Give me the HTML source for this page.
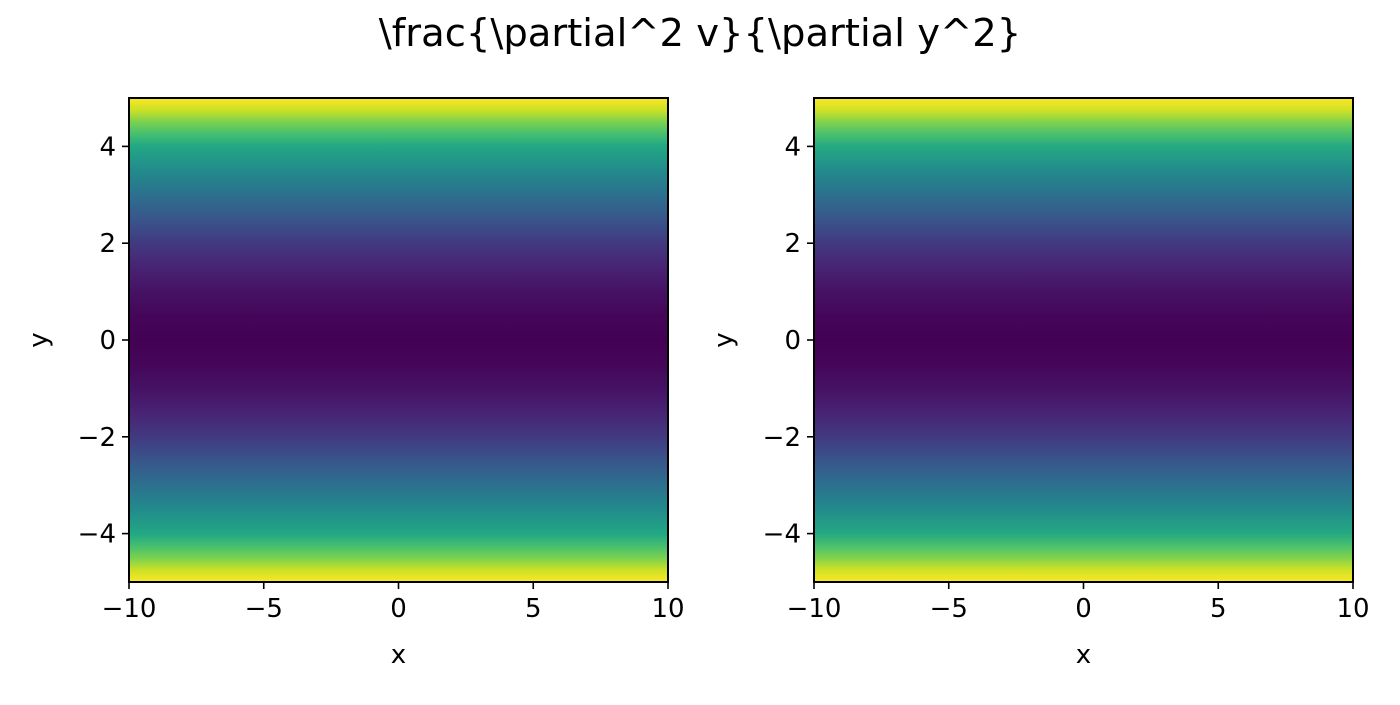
<!DOCTYPE html>
<html><head><meta charset="utf-8"><style>
body{margin:0;background:#fff;width:1400px;height:700px;overflow:hidden}
svg text{font-family:"DejaVu Sans","Liberation Sans",sans-serif;fill:#000}
</style></head><body>
<svg id="fig" width="1400" height="700">
<text x="700" y="46" font-size="38.5" text-anchor="middle">\frac{\partial^2 v}{\partial y^2}</text>
</svg>
<script>
// data: field value (normalized 0..1) as function of y
const yRows=[-5,-4.75,-4.5,-4.25,-4,-3.5,-3,-2.5,-2,-1.5,-1,-0.5,0,0.5,1,1.5,2,2.5,3,3.5,4,4.25,4.5,4.75,5];
const leftVals=[1,0.92,0.8,0.7,0.6,0.48,0.37,0.27,0.17,0.1,0.05,0.015,0,0.015,0.05,0.1,0.17,0.27,0.37,0.48,0.6,0.7,0.8,0.92,1];
const rightVals=[1,0.93,0.81,0.71,0.61,0.48,0.37,0.27,0.17,0.1,0.05,0.015,0,0.015,0.05,0.1,0.17,0.27,0.37,0.48,0.61,0.71,0.81,0.93,1];
const xTicks=[-10,-5,0,5,10];
const yTicks=[-4,-2,0,2,4];
const xDomain=[-10,10], yDomain=[-5,5];
const vir=[[68,1,84],[72,35,116],[64,67,135],[52,94,141],[41,120,142],[32,144,140],[34,167,132],[68,190,112],[121,209,81],[189,222,38],[253,231,37]];
function cmap(t){t=Math.max(0,Math.min(1,t));const f=t*10,i=Math.min(9,Math.floor(f)),r=f-i;const a=vir[i],b=vir[i+1];return 'rgb('+a.map((v,k)=>Math.round(v+(b[k]-v)*r)).join(',')+')';}
const NS='http://www.w3.org/2000/svg',svg=document.getElementById('fig');
function el(t,a,p){const e=document.createElementNS(NS,t);for(const k in a)e.setAttribute(k,a[k]);(p||svg).appendChild(e);return e;}
function panel(L,R,T,B,vals,id){
  const sx=v=>L+(v-xDomain[0])/(xDomain[1]-xDomain[0])*(R-L);
  const sy=v=>B-(v-yDomain[0])/(yDomain[1]-yDomain[0])*(B-T);
  const g=el('g',{});
  
  
  const defs=el('defs',{},g);
  const lg=el('linearGradient',{id:'g'+id,x1:0,y1:0,x2:0,y2:1},defs);
  const order=yRows.map((y,i)=>i).sort((a,b)=>sy(yRows[a])-sy(yRows[b]));
  order.forEach(i=>{el('stop',{offset:(sy(yRows[i])-T)/(B-T),'stop-color':cmap(vals[i])},lg);});
  const hm=el('rect',{x:L,y:T,width:R-L,height:B-T,fill:'url(#g'+id+')'},g);
  
  
  const fr=el('rect',{x:L,y:T,width:R-L,height:B-T,fill:'none',stroke:'#000','stroke-width':2},g);
  
  
  xTicks.forEach(v=>{const x=sx(v);el('line',{x1:x,x2:x,y1:B,y2:B+7,stroke:'#000','stroke-width':1.6},g);
    const t=el('text',{x:x,y:B+35,'font-size':26,'text-anchor':'middle'},g);t.textContent=String(v).replace('-','\u2212');
    
    });
  yTicks.forEach(v=>{const y=sy(v);el('line',{x1:L-7,x2:L,y1:y,y2:y,stroke:'#000','stroke-width':1.6},g);
    const t=el('text',{x:L-13,y:y+9,'font-size':26,'text-anchor':'end'},g);t.textContent=String(v).replace('-','\u2212');
    
    });
  const xl=el('text',{x:(L+R)/2,y:B+81,'font-size':26,'text-anchor':'middle'},g);xl.textContent='x';
  
  
  const yl=el('text',{x:0,y:0,'font-size':26,'text-anchor':'middle',transform:'translate('+(L-82)+','+((T+B)/2)+') rotate(-90)'},g);yl.textContent='y';
  
  
}
panel(129,668,98,582,leftVals,'left-panel');
panel(814,1353,98,582,rightVals,'right-panel');
</script>
</body></html>
